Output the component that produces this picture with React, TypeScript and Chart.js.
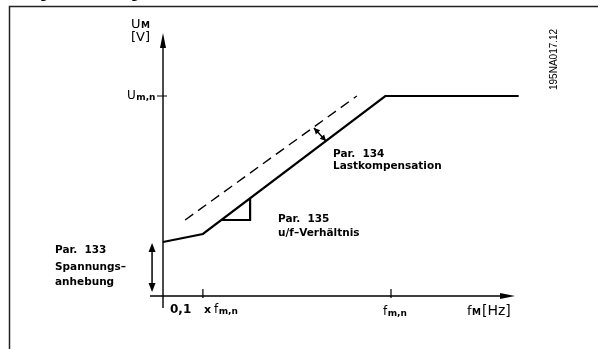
import React, { useEffect, useRef } from "react";
import { Chart, registerables } from "chart.js";

Chart.register(...registerables);

// Schematic data: x = f / f_m,n (schematic scale), y = U / U_m,n
const solidX = [0, 0.175, 0.975, 1.56];
const solidY = [0.27, 0.31, 1, 1];
const dashedX = [0.097, 0.85];
const dashedY = [0.38, 1];
const triangleX = [0.256, 0.382, 0.382];
const triangleY = [0.38, 0.38, 0.4885];
const xTickValues = [0.175, 1.0];
const yTickValues = [1.0];
const boostArrowY = [0.02, 0.265];
const loadArrowX = [0.662, 0.715];
const loadArrowY = [0.84, 0.775];

const FONT = "'DejaVu Sans', sans-serif";

function arrowHead(ctx: CanvasRenderingContext2D, x: number, y: number, ang: number, len: number, w: number) {
  ctx.save();
  ctx.translate(x, y);
  ctx.rotate(ang);
  ctx.beginPath();
  ctx.moveTo(0, 0);
  ctx.lineTo(-len, -w / 2);
  ctx.lineTo(-len, w / 2);
  ctx.closePath();
  ctx.fill();
  ctx.restore();
}

function subText(ctx: CanvasRenderingContext2D, main: string, sub: string, x: number, y: number, mainSize: number, subSize: number, dy: number, rest?: string, restSize?: number) {
  ctx.font = `${mainSize}px ${FONT}`;
  ctx.fillText(main, x, y);
  let w = ctx.measureText(main).width;
  ctx.font = `bold ${subSize}px ${FONT}`;
  ctx.fillText(sub, x + w + 0.5, y + dy);
  w += ctx.measureText(sub).width + 0.5;
  if (rest) {
    ctx.font = `${restSize || mainSize}px ${FONT}`;
    ctx.fillText(rest, x + w + 1, y);
  }
}

const diagramPlugin = {
  id: "diagram",
  beforeDatasetsDraw(chart: any) {
    const ctx: CanvasRenderingContext2D = chart.ctx;
    const xs = chart.scales.x;
    const ys = chart.scales.y;
    const x0 = xs.getPixelForValue(0);
    const y0 = ys.getPixelForValue(0);
    ctx.save();
    ctx.fillStyle = "#000";
    // frame
    ctx.lineWidth = 1.5;
    ctx.strokeStyle = "#222";
    ctx.beginPath();
    ctx.moveTo(9.5, 349);
    ctx.lineTo(9.5, 6.5);
    ctx.lineTo(598, 6.5);
    ctx.stroke();
    ctx.strokeStyle = "#000";
    // axes
    ctx.lineWidth = 1.4;
    ctx.beginPath();
    ctx.moveTo(x0, y0 + 12);
    ctx.lineTo(x0, 40);
    ctx.moveTo(x0 - 13, y0);
    ctx.lineTo(x0 + 345, y0);
    ctx.stroke();
    arrowHead(ctx, x0, 33, -Math.PI / 2, 15, 6);
    arrowHead(ctx, x0 + 352, y0, 0, 15, 6);
    // ticks
    ctx.lineWidth = 1.2;
    ctx.beginPath();
    for (const v of xTickValues) {
      const px = xs.getPixelForValue(v);
      ctx.moveTo(px, y0 - 7);
      ctx.lineTo(px, y0 + 2);
    }
    for (const v of yTickValues) {
      const py = ys.getPixelForValue(v);
      ctx.moveTo(x0 - 6, py);
      ctx.lineTo(x0 + 4, py);
    }
    ctx.stroke();
    ctx.restore();
  },
  afterDatasetsDraw(chart: any) {
    const ctx: CanvasRenderingContext2D = chart.ctx;
    const xs = chart.scales.x;
    const ys = chart.scales.y;
    ctx.save();
    ctx.fillStyle = "#000";
    ctx.strokeStyle = "#000";
    // boost double arrow
    const bx = xs.getPixelForValue(-0.048);
    const by1 = ys.getPixelForValue(boostArrowY[0]);
    const by2 = ys.getPixelForValue(boostArrowY[1]);
    ctx.lineWidth = 1.5;
    ctx.beginPath();
    ctx.moveTo(bx, by1 - 6);
    ctx.lineTo(bx, by2 + 6);
    ctx.stroke();
    arrowHead(ctx, bx, by1, Math.PI / 2, 9, 7);
    arrowHead(ctx, bx, by2, -Math.PI / 2, 9, 7);
    // load compensation double arrow
    const ax1 = xs.getPixelForValue(loadArrowX[0]);
    const ay1 = ys.getPixelForValue(loadArrowY[0]);
    const ax2 = xs.getPixelForValue(loadArrowX[1]);
    const ay2 = ys.getPixelForValue(loadArrowY[1]);
    const ang = Math.atan2(ay2 - ay1, ax2 - ax1);
    ctx.beginPath();
    ctx.moveTo(ax1, ay1);
    ctx.lineTo(ax2, ay2);
    ctx.stroke();
    arrowHead(ctx, ax2, ay2, ang, 6, 6);
    arrowHead(ctx, ax1, ay1, ang + Math.PI, 6, 6);

    ctx.textBaseline = "alphabetic";
    // cropped caption fragments at top
    ctx.font = `bold 11px ${FONT}`;
    ctx.fillText("g", 40, -1);
    ctx.fillText("g", 131, -1);
    // axis labels
    subText(ctx, "U", "M", 131, 28, 13, 9, 0);
    ctx.font = `13px ${FONT}`;
    ctx.fillText("[V]", 131, 41);
    subText(ctx, "U", "m,n", 127, 99, 12, 9, 1);
    subText(ctx, "f", "m,n", 383, 315, 12, 9, 1);
    subText(ctx, "f", "M", 467, 315, 13, 9, 0, "[Hz]", 14);
    ctx.font = `bold 12px ${FONT}`;
    ctx.fillText("0,1", 170, 313);
    ctx.font = `bold 11px ${FONT}`;
    ctx.fillText("x", 204, 313);
    subText(ctx, "f", "m,n", 214, 313, 12, 9, 1);
    // annotations
    ctx.font = `bold 10.5px ${FONT}`;
    ctx.fillText("Par.  134", 333, 157);
    ctx.fillText("Lastkompensation", 333, 169);
    ctx.fillText("Par.  135", 278, 222);
    ctx.fillText("u/f\u2013Verhältnis", 278, 236);
    ctx.fillText("Par.  133", 55, 253);
    ctx.fillText("Spannungs\u2013", 55, 270);
    ctx.fillText("anhebung", 55, 285);
    // drawing number, rotated
    ctx.save();
    ctx.translate(557, 90);
    ctx.rotate(-Math.PI / 2);
    ctx.font = `10px 'Liberation Sans', sans-serif`;
    ctx.fillText("195NA017.12", 0, 0);
    ctx.restore();
    ctx.restore();
  },
};

export default function App() {
  const ref = useRef<HTMLCanvasElement>(null);
  useEffect(() => {
    if (!ref.current) return;
    const toPts = (xa: number[], ya: number[]) => xa.map((x, i) => ({ x, y: ya[i] }));
    const chart = new Chart(ref.current, {
      type: "scatter",
      data: {
        datasets: [
          {
            data: toPts(solidX, solidY),
            showLine: true,
            borderColor: "#000",
            borderWidth: 2.2,
            pointRadius: 0,
            clip: false,
          } as any,
          {
            data: toPts(dashedX, dashedY),
            showLine: true,
            borderColor: "#000",
            borderWidth: 1.4,
            borderDash: [10, 6],
            pointRadius: 0,
            clip: false,
          } as any,
          {
            data: toPts(triangleX, triangleY),
            showLine: true,
            borderColor: "#000",
            borderWidth: 2.2,
            pointRadius: 0,
            clip: false,
          } as any,
        ],
      },
      options: {
        animation: false,
        responsive: true,
        maintainAspectRatio: false,
        layout: { padding: { left: 163, right: 70.2, top: 56, bottom: 53 } },
        plugins: { legend: { display: false }, tooltip: { enabled: false }, title: { display: false } },
        scales: {
          x: { type: "linear", min: 0, max: 1.6, display: false },
          y: { type: "linear", min: 0, max: 1.2, display: false },
        },
        events: [],
      },
      plugins: [diagramPlugin],
    });
    return () => chart.destroy();
  }, []);
  return (
    <div style={{ position: "absolute", left: 0, top: 0, width: 598, height: 349, background: "#fff" }}>
      <canvas ref={ref} />
    </div>
  );
}
